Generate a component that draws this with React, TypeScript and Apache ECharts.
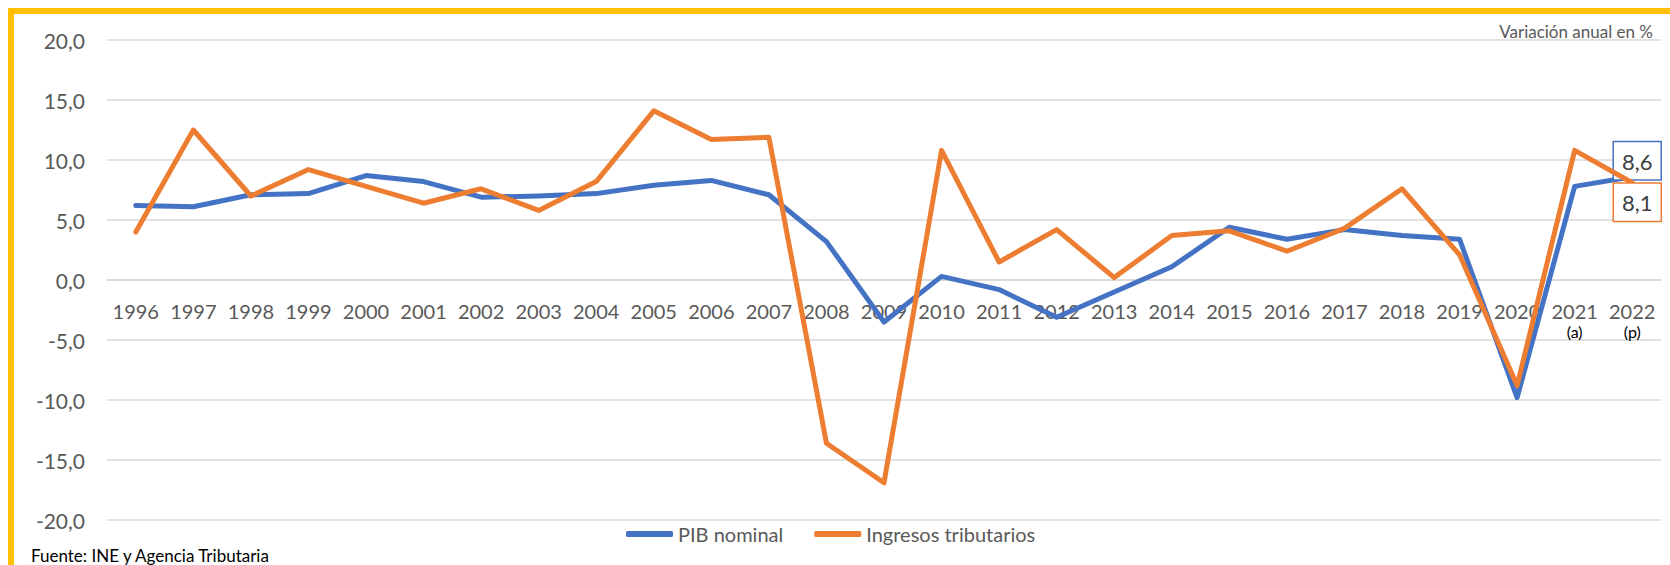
import React, { useEffect, useRef } from "react";
import * as echarts from "echarts";

const years = ["1996","1997","1998","1999","2000","2001","2002","2003","2004","2005","2006","2007","2008","2009","2010","2011","2012","2013","2014","2015","2016","2017","2018","2019","2020","2021","2022"];
const yearNotes: Record<string, string> = { "2021": "(a)", "2022": "(p)" };
const pibNominal = [6.2, 6.1, 7.1, 7.2, 8.7, 8.2, 6.9, 7.0, 7.2, 7.9, 8.3, 7.1, 3.2, -3.5, 0.3, -0.8, -3.1, -1.0, 1.1, 4.4, 3.4, 4.2, 3.7, 3.4, -9.8, 7.8, 8.6];
const ingresosTributarios = [4.0, 12.5, 7.0, 9.2, 7.8, 6.4, 7.6, 5.8, 8.2, 14.1, 11.7, 11.9, -13.6, -16.9, 10.8, 1.5, 4.2, 0.2, 3.7, 4.1, 2.4, 4.3, 7.6, 2.1, -8.8, 10.8, 8.1];
const seriesNames = ["PIB nominal", "Ingresos tributarios"];
const colors = ["#4472C4", "#ED7D31"];
const unitText = "Variación anual en %";
const sourceText = "Fuente: INE y Agencia Tributaria";

const FONT = "Lato";
const fmt = (v: number) => v.toFixed(1).replace(".", ",");

export default function App() {
  const ref = useRef<HTMLDivElement>(null);
  useEffect(() => {
    if (!ref.current) return;
    const chart = echarts.init(ref.current, undefined, { renderer: "svg" });
    const last = years.length - 1;
    const endLabel = (color: string, pos: "top" | "bottom", distance: number) => ({
      show: true,
      position: pos,
      distance,
      offset: [5, 0],
      formatter: (p: any) => fmt(p.value),
      fontFamily: FONT,
      fontSize: 22,
      color: "#404040",
      borderColor: color,
      borderWidth: 1.5,
      padding: [8, 8, 7, 8],
      backgroundColor: "#ffffff",
    });
    const build = (arr: number[], color: string, pos: "top" | "bottom", distance: number) =>
      arr.map((v, i) => (i === last ? { value: v, label: endLabel(color, pos, distance) } : v));

    chart.setOption({
      animation: false,
      backgroundColor: "#ffffff",
      textStyle: { fontFamily: FONT },
      grid: { left: 107, right: 9, top: 40, bottom: 45, containLabel: false },
      graphic: [
        { type: "rect", left: 8, top: 8, shape: { x: 0, y: 0, width: 6, height: 557 }, style: { fill: "#FFC000" } },
        { type: "rect", left: 8, top: 8, shape: { x: 0, y: 0, width: 1662, height: 6 }, style: { fill: "#FFC000" } },
        {
          type: "text", right: 17, top: 23,
          style: { text: unitText, fontFamily: FONT, fontSize: 17, fill: "#595959" },
        },
        {
          type: "text", left: 31, top: 547,
          style: { text: sourceText, fontFamily: FONT, fontSize: 17, fill: "#000000" },
        },
      ],
      legend: {
        left: 621,
        top: 519,
        itemWidth: 47,
        itemHeight: 6,
        itemGap: 31,
        icon: "roundRect",
        textStyle: { fontFamily: FONT, fontSize: 20, color: "#595959" },
        data: seriesNames,
      },
      xAxis: {
        type: "category",
        data: years,
        boundaryGap: true,
        position: "bottom",
        offset: -240,
        axisLine: { show: true, onZero: false, lineStyle: { color: "#d9d9d9", width: 1.5 } },
        axisTick: { show: false },
        axisLabel: {
          interval: 0,
          margin: 21,
          formatter: (v: string) => (yearNotes[v] ? `{y|${v}}\n{s|${yearNotes[v]}}` : `{y|${v}}`),
          rich: {
            y: { fontFamily: FONT, fontSize: 20, lineHeight: 20, color: "#595959" },
            s: { fontFamily: FONT, fontSize: 16, lineHeight: 21, color: "#000000" },
          },
        },
        splitLine: { show: false },
      },
      yAxis: {
        type: "value",
        min: -20,
        max: 20,
        interval: 5,
        axisLine: { show: false },
        axisTick: { show: false },
        axisLabel: { margin: 22, fontFamily: FONT, fontSize: 21, color: "#595959", formatter: (v: number) => fmt(v) },
        splitLine: { lineStyle: { color: "#d9d9d9", width: 1.5 } },
      },
      series: [
        {
          name: seriesNames[0],
          type: "line",
          data: build(pibNominal, colors[0], "top", -3),
          symbol: "circle",
          symbolSize: 1,
          showSymbol: true,
          itemStyle: { color: colors[0] },
          lineStyle: { color: colors[0], width: 5, cap: "round", join: "round" },
          label: { show: false },
          z: 2,
        },
        {
          name: seriesNames[1],
          type: "line",
          data: build(ingresosTributarios, colors[1], "bottom", 0.5),
          symbol: "circle",
          symbolSize: 1,
          showSymbol: true,
          itemStyle: { color: colors[1] },
          lineStyle: { color: colors[1], width: 5, cap: "round", join: "round" },
          label: { show: false },
          z: 3,
        },
      ],
    });
    return () => chart.dispose();
  }, []);
  return <div ref={ref} style={{ position: "absolute", left: 0, top: 0, width: 1670, height: 565 }} />;
}
